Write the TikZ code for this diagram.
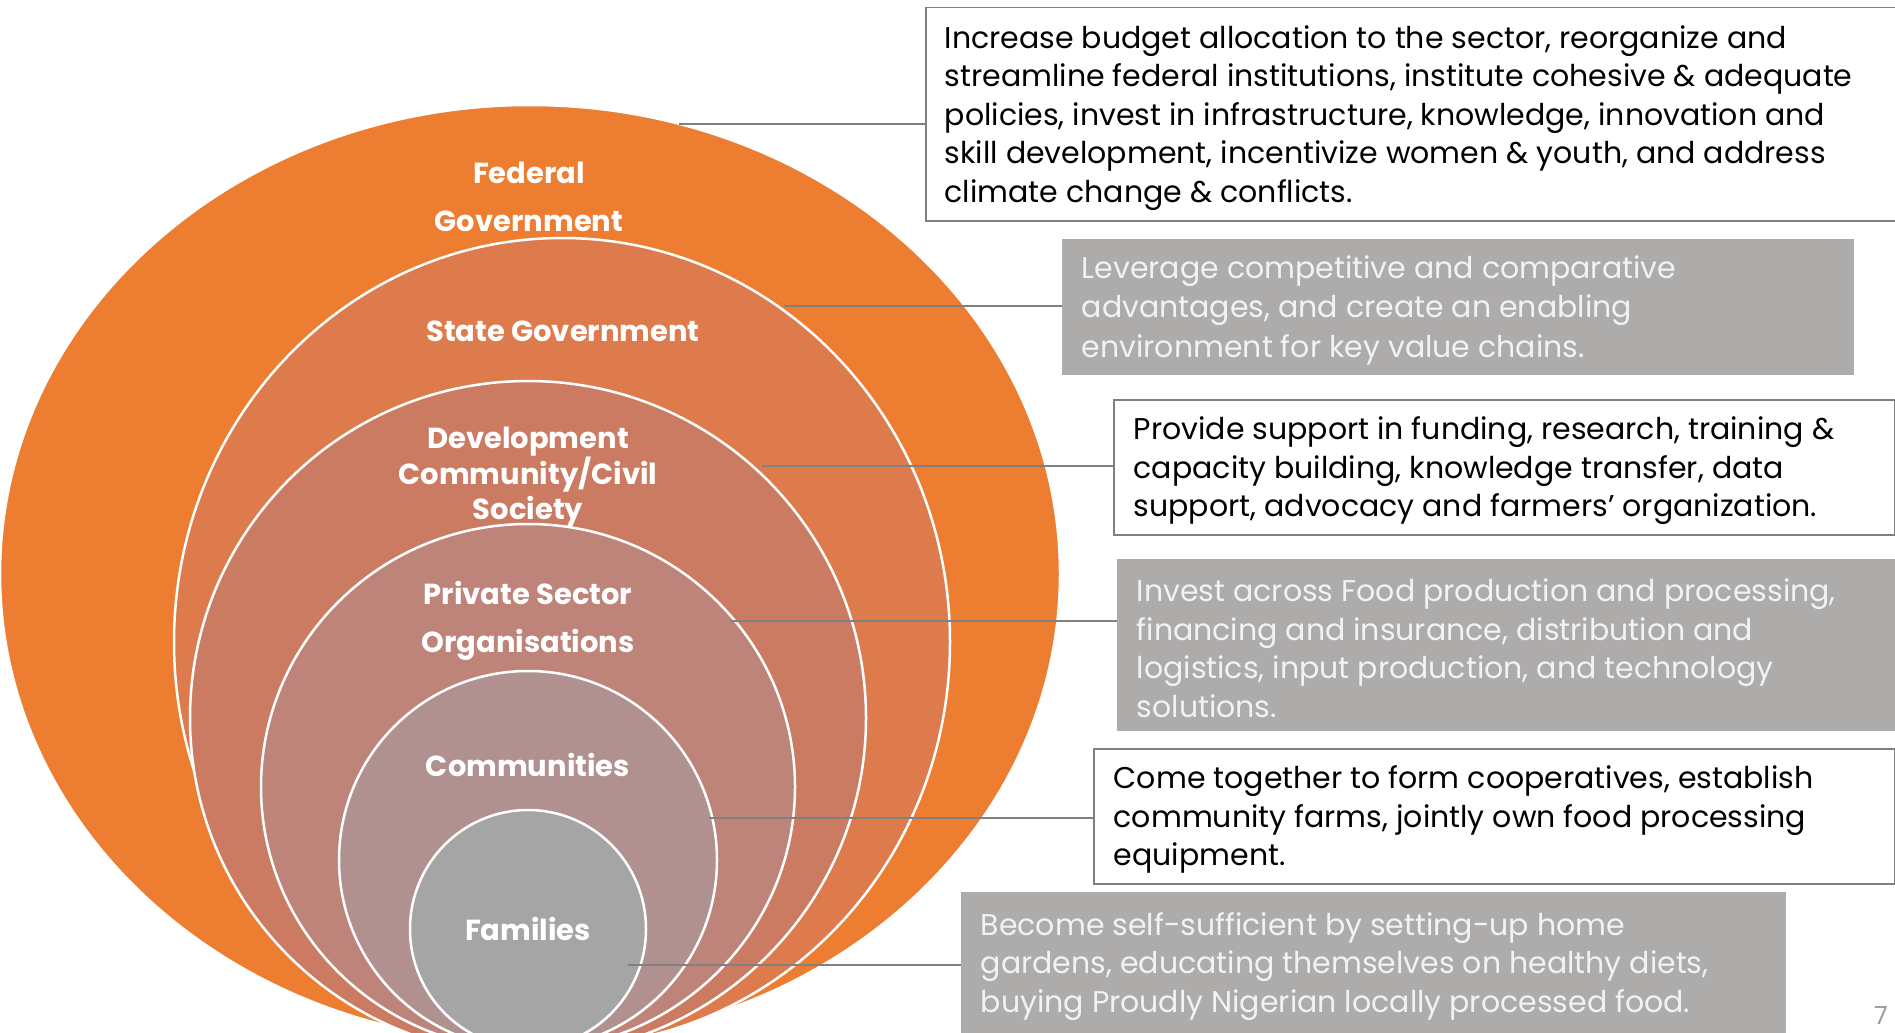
\documentclass[tikz,border=0pt]{standalone}
\usepackage{fontspec}
\setmainfont{Poppins}
\usetikzlibrary{calc, positioning}
\definecolor{fedorange}{HTML}{ED7D31}
\definecolor{stateorange}{HTML}{DD7B4C}
\definecolor{devsalmon}{HTML}{CC7B63}
\definecolor{privrose}{HTML}{BE8479}
\definecolor{commmauve}{HTML}{B0918F}
\definecolor{famgray}{HTML}{A5A5A5}
\definecolor{notegray}{HTML}{AEABAB}
\definecolor{noteline}{HTML}{808080}
\definecolor{notetext}{HTML}{F2F2F2}
% box text, lowered a little inside its box
\newcommand{\notelines}[2]{\raisebox{-3.5pt}[\height][\depth]{\begin{minipage}{#1}\raggedright #2\end{minipage}}}

\begin{document}
\begin{tikzpicture}[x=1pt,y=-1pt,
    ring/.style={draw=white,line width=2.5pt},
    ringlabel/.style={text=white,font=\bfseries\fontsize{29}{48}\selectfont,align=center,inner sep=0pt},
    notebox/.style={anchor=north west,inner xsep=19pt,inner ysep=0pt,line width=1.5pt,
        font=\fontsize{30}{38.5}\selectfont},
    notewhite/.style={notebox,draw=noteline,fill=white,text=black},
    notegrey/.style={notebox,draw=notegray,fill=notegray,text=notetext},
    leader/.style={noteline,line width=1.5pt}]
    \useasboundingbox (0,0) rectangle (1895,1033);
    \clip (0,0) rectangle (1895,1033);

    \draw[ring,fill=fedorange] (530,574) ellipse [x radius=530, y radius=469];
    \draw[ring,fill=stateorange] (562,642) ellipse [x radius=388, y radius=404];
    \draw[ring,fill=devsalmon] (528,718) ellipse [x radius=338, y radius=337];
    \draw[ring,fill=privrose] (528,787) ellipse [x radius=267, y radius=263];
    \draw[ring,fill=commmauve] (528,860) ellipse [x radius=189, y radius=189];
    \draw[ring,fill=famgray] (528,929) ellipse [x radius=118, y radius=119];

    \node[ringlabel] (fed) at (529,197) {Federal\\Government};
    \node[ringlabel] (state) at (563,331) {State Government};
    \node[ringlabel,font=\bfseries\fontsize{29}{35}\selectfont] (dev) at (528,477) {Development\\Community/Civil\\Society};
    \node[ringlabel] (priv) at (528,621) {Private Sector\\Organisations};
    \node[ringlabel] (comm) at (528,765) {Communities};
    \node[ringlabel] (fam) at (528,929) {Families};

    \node[notewhite,minimum width=970pt,minimum height=213pt] (fednote) at (925,7)
        {\notelines{932pt}{Increase budget allocation to the sector, reorganize and\\
         streamline federal institutions, institute cohesive \& adequate\\
         policies, invest in infrastructure, knowledge, innovation and\\
         skill development, incentivize women \& youth, and address\\
         climate change \& conflicts.}};
    \node[notegrey,minimum width=790pt,minimum height=134pt,
        font=\fontsize{30}{39.5}\selectfont] (statenote) at (1062,239)
        {\notelines{752pt}{Leverage competitive and comparative\\
         advantages, and create an enabling\\
         environment for key value chains.}};
    \node[notewhite,minimum width=781pt,minimum height=135pt,inner xsep=20pt] (devnote) at (1113,399)
        {\notelines{741pt}{Provide support in funding, research, training \&\\
         capacity building, knowledge transfer, data\\
         support, advocacy and farmers’ organization.}};
    \node[notegrey,minimum width=778pt,minimum height=170pt] (privnote) at (1117,559)
        {\notelines{740pt}{Invest across Food production and processing,\\
         financing and insurance, distribution and\\
         logistics, input production, and technology\\
         solutions.}};
    \node[notewhite,minimum width=801pt,minimum height=135pt,inner xsep=20pt] (commnote) at (1093,748)
        {\notelines{761pt}{Come together to form cooperatives, establish\\
         community farms, jointly own food processing\\
         equipment.}};
    \node[notegrey,minimum width=823pt,minimum height=140pt] (famnote) at (961,892)
        {\notelines{785pt}{Become self-sufficient by setting-up home\\
         gardens, educating themselves on healthy diets,\\
         buying Proudly Nigerian locally processed food.}};

    \coordinate (fedpt) at (679,124);
    \coordinate (statept) at (784,306);
    \coordinate (devpt) at (762,466);
    \coordinate (privpt) at (730,621);
    \coordinate (commpt) at (709,818);
    \coordinate (fampt) at (628,965);
    \draw[leader] (fedpt) -- (fedpt -| fednote.west);
    \draw[leader] (statept) -- (statept -| statenote.west);
    \draw[leader] (devpt) -- (devpt -| devnote.west);
    \draw[leader] (privpt) -- (privpt -| privnote.west);
    \draw[leader] (commpt) -- (commpt -| commnote.west);
    \draw[leader] (fampt) -- (fampt -| famnote.west);

    \node[text=noteline!80,font=\fontsize{25}{25}\selectfont,inner sep=0pt] (pagenum) at (1881,1015) {7};
\end{tikzpicture}
\end{document}
